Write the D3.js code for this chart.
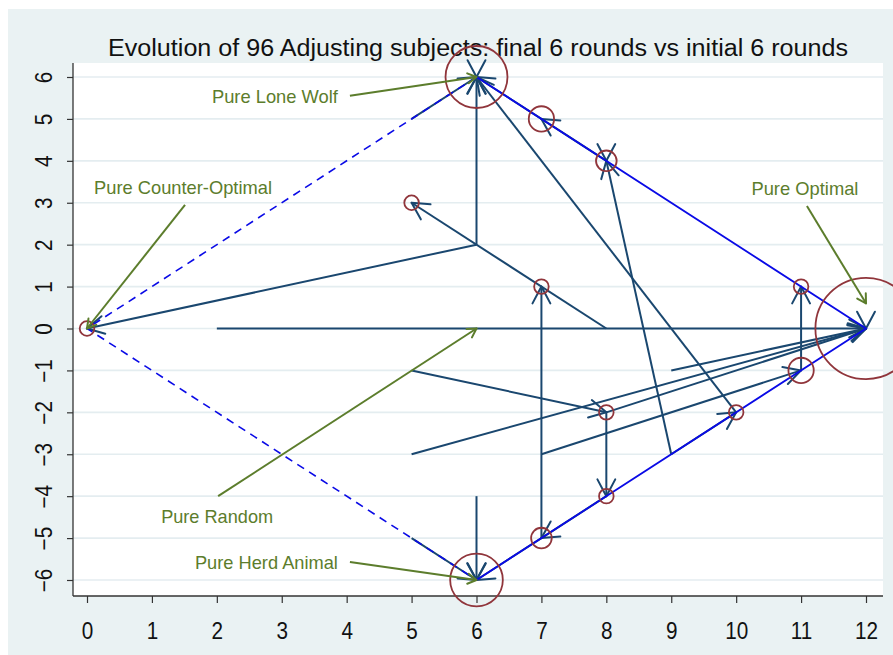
<!DOCTYPE html>
<html>
<head>
<meta charset="utf-8">
<script src="https://cdn.jsdelivr.net/npm/d3@7"></script>
<style>
  body { margin: 0; background: #fff; }
  text { font-family: "Liberation Sans", Arial, Helvetica, sans-serif; }
</style>
</head>
<body>
<div id="chart"></div>
<script>
const titleText = "Evolution of 96 Adjusting subjects: final 6 rounds vs initial 6 rounds";
const xTicks = [0, 1, 2, 3, 4, 5, 6, 7, 8, 9, 10, 11, 12];
const yTicks = [-6, -5, -4, -3, -2, -1, 0, 1, 2, 3, 4, 5, 6];

// each arrow: initial 6 rounds (x0,y0) -> final 6 rounds (x1,y1)
const arrowX0 = [2, 5, 8, 9, 12, 6, 6, 10, 5, 7, 6, 8, 7, 5, 8, 7, 11, 9, 8, 8, 6, 5, 7, 8, 9];
const arrowY0 = [0, -3, -2, -1, 0, 2, 2, -2, 5, 5, 6, 0, -5, -1, -2, -3, -1, -3, 4, 4, -4, -5, -5, -4, -3];
const arrowX1 = [12, 12, 12, 12, 12, 0, 6, 6, 6, 6, 6, 5, 7, 8, 8, 11, 11, 8, 8, 7, 6, 6, 6, 7, 10];
const arrowY1 = [0, 0, 0, 0, 0, 0, 6, 6, 6, 6, 6, 3, 1, -2, -4, -1, 1, 4, 4, 5, -6, -6, -6, -5, -2];

// final positions and number of subjects there
const endX = [0, 6, 7, 8, 5, 7, 11, 12, 11, 8, 10, 8, 7, 6];
const endY = [0, 6, 5, 4, 3, 1, 1, 0, -1, -2, -2, -4, -5, -6];
const endN = [1, 18, 3, 2, 1, 1, 1, 48, 3, 1, 1, 1, 2, 13];

// pure strategy frontier
const solidX = [6, 12, 6];
const solidY = [6, 0, -6];
const dashX = [6, 0, 6];
const dashY = [6, 0, -6];

// pure type notes
const noteText = ["Pure Lone Wolf", "Pure Counter-Optimal", "Pure Optimal", "Pure Random", "Pure Herd Animal"];
const noteFromX = [4.05, 1.51, 11.09, 2.02, 4.05];
const noteFromY = [5.55, 2.95, 2.92, -4.0, -5.57];
const noteToX = [6, 0, 12, 6, 6];
const noteToY = [6, 0, 0.6, 0, -6];

const width = 893, height = 655;
const plot = {left: 73, right: 883, top: 63, bottom: 596};

const navy = "#1a476f", maroon = "#90353b", blue = "#0a0ae6", olive = "#5c7d2c";

const x = d3.scaleLinear().domain([0, 12]).range([87, 866]);
const y = d3.scaleLinear().domain([-6, 6]).range([580, 77]);
const r = d3.scaleSqrt().domain([0, 48]).range([0, 50.6]);

const svg = d3.select("#chart").append("svg")
    .attr("width", width)
    .attr("height", height);

svg.append("rect").attr("width", width).attr("height", height).attr("fill", "#fff");
svg.append("rect")
    .attr("x", 8).attr("y", 9)
    .attr("width", width - 8).attr("height", height - 9)
    .attr("fill", "#eaf2f3");
svg.append("rect")
    .attr("x", plot.left).attr("y", plot.top)
    .attr("width", plot.right - plot.left).attr("height", plot.bottom - plot.top)
    .attr("fill", "#fff");

// title
svg.append("text")
    .attr("x", 478).attr("y", 56)
    .attr("text-anchor", "middle")
    .style("font-size", "23px")
    .attr("fill", "#111")
    .attr("textLength", 740)
    .attr("lengthAdjust", "spacingAndGlyphs")
    .text(titleText);

// grid
svg.append("g").selectAll("line")
    .data(yTicks)
    .enter().append("line")
    .attr("x1", plot.left).attr("x2", plot.right)
    .attr("y1", d => y(d)).attr("y2", d => y(d))
    .attr("stroke", "#e4edf0")
    .attr("stroke-width", 1.6);

// axes
const yAxis = svg.append("g")
    .attr("transform", "translate(" + plot.left + ",0)")
    .call(d3.axisLeft(y).tickValues(yTicks).tickSize(6).tickSizeOuter(0));
yAxis.select(".domain").remove();
yAxis.selectAll(".tick line").attr("stroke", "#333").attr("stroke-width", 1.2);
yAxis.selectAll(".tick text")
    .style("font-size", "23px")
    .attr("fill", "#111")
    .attr("x", 0).attr("dy", 0)
    .attr("text-anchor", "middle")
    .attr("transform", "translate(-29,0) rotate(-90) translate(0,8) scale(0.9,1)");

const xAxis = svg.append("g")
    .attr("transform", "translate(0," + plot.bottom + ")")
    .call(d3.axisBottom(x).tickValues(xTicks).tickSize(7).tickSizeOuter(0));
xAxis.select(".domain").remove();
xAxis.selectAll(".tick line").attr("stroke", "#333").attr("stroke-width", 1.2);
xAxis.selectAll(".tick text")
    .style("font-size", "23px")
    .attr("fill", "#111")
    .attr("y", 0).attr("dy", 0)
    .attr("transform", "translate(0,43) scale(0.9,1)");

svg.append("line")
    .attr("x1", plot.left).attr("x2", plot.left)
    .attr("y1", plot.top).attr("y2", plot.bottom)
    .attr("stroke", "#333").attr("stroke-width", 1.3);
svg.append("line")
    .attr("x1", plot.left).attr("x2", plot.right)
    .attr("y1", plot.bottom).attr("y2", plot.bottom)
    .attr("stroke", "#333").attr("stroke-width", 1.3);

// arrow with open barbs, zero length arrows get their head pointing down
function drawArrow(g, px0, py0, px1, py1, len, ang, color, w) {
    const dx = px1 - px0, dy = py1 - py0;
    const t = (dx === 0 && dy === 0) ? Math.PI / 2 : Math.atan2(dy, dx);
    if (dx !== 0 || dy !== 0) {
        g.append("line")
            .attr("x1", px0).attr("y1", py0)
            .attr("x2", px1).attr("y2", py1)
            .attr("stroke", color).attr("stroke-width", w);
    }
    [-ang, ang].forEach(function(a) {
        const b = t + Math.PI + a;
        g.append("line")
            .attr("x1", px1).attr("y1", py1)
            .attr("x2", px1 + len * Math.cos(b)).attr("y2", py1 + len * Math.sin(b))
            .attr("stroke", color).attr("stroke-width", w)
            .attr("stroke-linecap", "round");
    });
}

const arrowG = svg.append("g");
arrowX0.forEach(function(d, i) {
    drawArrow(arrowG, x(arrowX0[i]), y(arrowY0[i]), x(arrowX1[i]), y(arrowY1[i]),
        19, 28 * Math.PI / 180, navy, 2);
});

// frontier lines
const line = d3.line().x(d => x(d[0])).y(d => y(d[1]));
svg.append("path")
    .datum(solidX.map((d, i) => [d, solidY[i]]))
    .attr("d", line)
    .attr("fill", "none")
    .attr("stroke", blue)
    .attr("stroke-width", 1.8);
svg.append("path")
    .datum(dashX.map((d, i) => [d, dashY[i]]))
    .attr("d", line)
    .attr("fill", "none")
    .attr("stroke", blue)
    .attr("stroke-width", 1.6)
    .attr("stroke-dasharray", "8,6");

// final position circles, area ~ subjects
svg.append("g").selectAll("circle")
    .data(endX)
    .enter().append("circle")
    .attr("cx", (d, i) => x(endX[i]))
    .attr("cy", (d, i) => y(endY[i]))
    .attr("r", (d, i) => r(endN[i]))
    .attr("fill", "none")
    .attr("stroke", maroon)
    .attr("stroke-width", 1.8);

// notes
const noteG = svg.append("g");
const place = ["w", "n", "n", "s", "w"];
const noteLen = [126, 178, 107, 112, 143];
noteText.forEach(function(txt, i) {
    const sx = x(noteFromX[i]), sy = y(noteFromY[i]);
    drawArrow(noteG, sx, sy, x(noteToX[i]), y(noteToY[i]), 10, 30 * Math.PI / 180, olive, 2);
    const t = noteG.append("text")
        .style("font-size", "19px")
        .attr("fill", olive)
        .attr("textLength", noteLen[i])
        .attr("lengthAdjust", "spacingAndGlyphs")
        .text(txt);
    if (place[i] === "w") {
        t.attr("x", sx - 12).attr("y", sy + 7).attr("text-anchor", "end");
    } else if (place[i] === "n") {
        t.attr("x", sx - 2).attr("y", sy - 11).attr("text-anchor", "middle");
    } else {
        t.attr("x", sx - 1).attr("y", sy + 27).attr("text-anchor", "middle");
    }
});
</script>
</body>
</html>
